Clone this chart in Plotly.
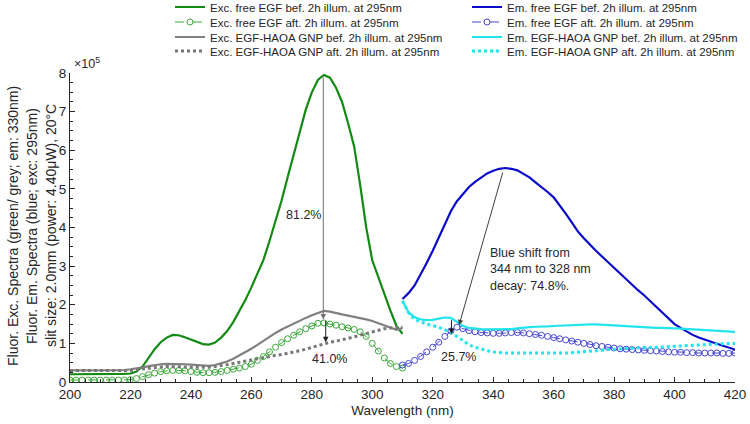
import plotly.graph_objects as go

# ---------------- data (intensity in units of 1e5) ----------------
wl_exc = list(range(200, 311, 2))
wl_em = list(range(310, 421, 2))

exc_free_bef = [0.20, 0.20, 0.20, 0.20, 0.20, 0.20, 0.20, 0.20, 0.20, 0.21,
                0.22, 0.27, 0.40, 0.62, 0.85, 1.03, 1.15, 1.22, 1.21, 1.16,
                1.10, 1.03, 0.98, 0.97, 1.02, 1.15, 1.32, 1.55, 1.82, 2.12,
                2.45, 2.80, 3.16, 3.65, 4.15, 4.70, 5.30, 5.90, 6.50, 7.05,
                7.50, 7.82, 7.95, 7.88, 7.62, 7.25, 6.70, 6.10, 5.10, 4.00,
                3.15, 2.70, 2.30, 1.85, 1.45, 1.25]
exc_free_aft = [0.05, 0.05, 0.05, 0.05, 0.05, 0.05, 0.05, 0.05, 0.05, 0.05,
                0.06, 0.09, 0.14, 0.19, 0.23, 0.27, 0.29, 0.30, 0.30, 0.29,
                0.27, 0.25, 0.24, 0.24, 0.25, 0.27, 0.30, 0.33, 0.36, 0.40,
                0.46, 0.56, 0.66, 0.78, 0.90, 1.02, 1.12, 1.21, 1.30, 1.38,
                1.45, 1.52, 1.53, 1.50, 1.47, 1.43, 1.40, 1.36, 1.30, 1.18,
                1.00, 0.80, 0.62, 0.48, 0.40, 0.36]
exc_gnp_bef = [0.30, 0.30, 0.30, 0.30, 0.30, 0.30, 0.30, 0.30, 0.31, 0.31,
               0.33, 0.35, 0.38, 0.41, 0.44, 0.46, 0.47, 0.47, 0.47, 0.46,
               0.45, 0.44, 0.43, 0.42, 0.44, 0.48, 0.53, 0.60, 0.68, 0.77,
               0.86, 0.96, 1.07, 1.17, 1.27, 1.36, 1.44, 1.52, 1.59, 1.66,
               1.73, 1.79, 1.84, 1.82, 1.78, 1.75, 1.72, 1.69, 1.66, 1.62,
               1.58, 1.52, 1.46, 1.40, 1.35, 1.40]
exc_gnp_aft = [0.30, 0.30, 0.30, 0.30, 0.30, 0.30, 0.30, 0.30, 0.30, 0.30,
               0.30, 0.32, 0.34, 0.36, 0.38, 0.39, 0.40, 0.40, 0.40, 0.39,
               0.38, 0.38, 0.38, 0.38, 0.40, 0.42, 0.45, 0.48, 0.51, 0.55,
               0.58, 0.61, 0.64, 0.66, 0.69, 0.71, 0.74, 0.77, 0.81, 0.85,
               0.90, 0.95, 1.00, 1.03, 1.06, 1.09, 1.13, 1.17, 1.21, 1.26,
               1.31, 1.35, 1.38, 1.40, 1.41, 1.42]

em_free_bef = [2.15, 2.30, 2.50, 2.78, 3.08, 3.40, 3.75, 4.10, 4.42, 4.68,
               4.88, 5.05, 5.18, 5.30, 5.40, 5.47, 5.52, 5.54, 5.52, 5.48,
               5.40, 5.30, 5.17, 5.05, 4.92, 4.78, 4.58, 4.36, 4.13, 3.90,
               3.72, 3.55, 3.40, 3.25, 3.10, 2.96, 2.81, 2.66, 2.51, 2.37,
               2.24, 2.09, 1.93, 1.78, 1.63, 1.50, 1.40, 1.30, 1.22, 1.15,
               1.09, 1.04, 0.99, 0.94, 0.90, 0.84]
em_free_aft = [0.44, 0.48, 0.56, 0.66, 0.78, 0.90, 1.03, 1.18, 1.32, 1.42,
               1.38, 1.33, 1.30, 1.28, 1.27, 1.26, 1.26, 1.27, 1.28, 1.28,
               1.27, 1.25, 1.23, 1.21, 1.18, 1.15, 1.12, 1.09, 1.06, 1.03,
               1.00, 0.97, 0.94, 0.92, 0.90, 0.88, 0.86, 0.85, 0.84, 0.83,
               0.82, 0.81, 0.80, 0.79, 0.78, 0.77, 0.77, 0.76, 0.76, 0.75,
               0.75, 0.75, 0.75, 0.74, 0.74, 0.75]
em_gnp_bef = [2.10, 1.80, 1.68, 1.62, 1.60, 1.61, 1.64, 1.67, 1.66, 1.55,
              1.45, 1.40, 1.38, 1.37, 1.36, 1.36, 1.36, 1.36, 1.37, 1.39,
              1.41, 1.42, 1.43, 1.43, 1.44, 1.45, 1.46, 1.47, 1.48, 1.48,
              1.49, 1.49, 1.49, 1.48, 1.48, 1.47, 1.46, 1.45, 1.44, 1.43,
              1.42, 1.41, 1.40, 1.40, 1.40, 1.39, 1.38, 1.37, 1.36, 1.35,
              1.34, 1.33, 1.32, 1.31, 1.31, 1.30]
em_gnp_aft = [2.10, 1.80, 1.62, 1.55, 1.50, 1.46, 1.42, 1.35, 1.28, 1.18,
              1.06, 0.96, 0.90, 0.85, 0.81, 0.78, 0.76, 0.75, 0.75, 0.75,
              0.75, 0.74, 0.74, 0.74, 0.74, 0.74, 0.75, 0.75, 0.76, 0.77,
              0.78, 0.79, 0.81, 0.82, 0.84, 0.85, 0.86, 0.87, 0.88, 0.88,
              0.89, 0.89, 0.90, 0.90, 0.91, 0.91, 0.92, 0.93, 0.94, 0.95,
              0.96, 0.97, 0.98, 0.99, 1.00, 1.00]

series_names = [
    "Exc. free EGF bef. 2h illum. at 295nm",
    "Exc. free EGF aft. 2h illum. at 295nm",
    "Exc. EGF-HAOA GNP bef. 2h illum. at 295nm",
    "Exc. EGF-HAOA GNP aft. 2h illum. at 295nm",
    "Em. free EGF bef. 2h illum. at 295nm",
    "Em. free EGF aft. 2h illum. at 295nm",
    "Em. EGF-HAOA GNP bef. 2h illum. at 295nm",
    "Em. EGF-HAOA GNP aft. 2h illum. at 295nm",
]

# annotation content
pct_labels = ["81.2%", "41.0%", "25.7%"]
pct_x = [277.3, 286.0, 328.5]
pct_y = [4.33, 0.60, 0.66]
shift_text = "Blue shift from<br>344 nm to 328 nm<br>decay: 74.8%."
# arrows: (tail x, tail y, head x, head y, colour)
arrows = [
    (283.8, 7.92, 283.8, 1.62, "#707070"),
    (284.6, 1.62, 284.6, 1.03, "#202020"),
    (343.3, 5.46, 328.7, 1.47, "#404040"),
    (326.2, 1.64, 326.2, 1.24, "#202020"),
]

FONT = "Liberation Sans, Arial, sans-serif"
TXT = "#262626"

styles = [
    dict(x=wl_exc, y=exc_free_bef, color="#138a13", dash="solid", width=2.2, mk=False),
    dict(x=wl_exc, y=exc_free_aft, color="#3aa83a", dash="dash", width=1, mk=True),
    dict(x=wl_exc, y=exc_gnp_bef, color="#808080", dash="solid", width=2.2, mk=False),
    dict(x=wl_exc, y=exc_gnp_aft, color="#777777", dash="dot", width=3, mk=False),
    dict(x=wl_em, y=em_free_bef, color="#0a0ac8", dash="solid", width=2.2, mk=False),
    dict(x=wl_em, y=em_free_aft, color="#4646d2", dash="dash", width=1, mk=True),
    dict(x=wl_em, y=em_gnp_bef, color="#22e4ec", dash="solid", width=2.2, mk=False),
    dict(x=wl_em, y=em_gnp_aft, color="#22e4ec", dash="dot", width=3, mk=False),
]

fig = go.Figure()
for i, (nm, s) in enumerate(zip(series_names, styles)):
    kw = dict(
        x=s["x"], y=s["y"], name=nm,
        mode="lines+markers" if s["mk"] else "lines",
        line=dict(color=s["color"], dash=s["dash"], width=s["width"]),
        legend="legend" if i == 0 else f"legend{i + 1}",
        showlegend=True,
    )
    if s["mk"]:
        kw["marker"] = dict(symbol="circle-open", size=6, color=s["color"],
                            line=dict(width=1, color=s["color"]))
    fig.add_trace(go.Scatter(**kw))

# legends: two columns of four rows
row_px = [7, 22, 37, 51]
col_px = [170, 467]
H = 424
W = 750
legend_layout = {}
for i in range(8):
    col = 0 if i < 4 else 1
    row = i % 4
    key = "legend" if i == 0 else f"legend{i + 1}"
    legend_layout[key] = dict(
        x=col_px[col] / W, y=1 - row_px[row] / H,
        xref="container", yref="container",
        xanchor="left", yanchor="middle",
        bgcolor="rgba(0,0,0,0)", borderwidth=0,
        font=dict(family=FONT, size=11.5, color=TXT),
        itemwidth=30,
    )

annotations = []
for t, x, y in zip(pct_labels, pct_x, pct_y):
    annotations.append(dict(x=x, y=y, xref="x", yref="y", text=t, showarrow=False,
                            font=dict(family=FONT, size=12.5, color=TXT)))
annotations.append(dict(x=338.3, y=2.9, xref="x", yref="y", text=shift_text,
                        showarrow=False, align="left", xanchor="left",
                        font=dict(family=FONT, size=12.5, color=TXT)))
for (ax_, ay_, hx, hy, c) in arrows:
    annotations.append(dict(x=hx, y=hy, ax=ax_, ay=ay_, xref="x", yref="y",
                            axref="x", ayref="y", text="", showarrow=True,
                            arrowhead=2, arrowsize=1.1, arrowwidth=1,
                            arrowcolor=c, standoff=0, startstandoff=0))
# exponent label
annotations.append(dict(x=0.003, y=1.0, xref="paper", yref="paper",
                        text="×10<sup>5</sup>", showarrow=False,
                        xanchor="left", yanchor="bottom",
                        font=dict(family=FONT, size=12.5, color=TXT)))
# y-axis title (three lines)
ytitle = ["Fluor. Exc. Spectra (green/ grey; em: 330nm)",
          "Fluor. Em. Spectra (blue; exc: 295nm)",
          "slit size: 2.0mm (power: 4.40μW), 20°C"]
ytitle_px = [13, 32, 51]
for t, px in zip(ytitle, ytitle_px):
    annotations.append(dict(x=(px - 70) / 665, y=0.505, xref="paper", yref="paper",
                            text=t, showarrow=False, textangle=-90,
                            xanchor="center", yanchor="middle",
                            font=dict(family=FONT, size=14, color=TXT)))

fig.update_layout(
    width=W, height=H,
    showlegend=True,
    margin=dict(l=70, r=15, t=73, b=42, autoexpand=False),
    paper_bgcolor="white", plot_bgcolor="white",
    font=dict(family=FONT, size=13, color=TXT),
    annotations=annotations,
    **legend_layout,
)
fig.update_xaxes(
    range=[200, 420], dtick=20, tick0=200,
    showline=True, linecolor=TXT, linewidth=1,
    ticks="inside", ticklen=5, tickcolor=TXT,
    minor=dict(dtick=5, ticks="inside", ticklen=3, tickcolor=TXT),
    showgrid=False, zeroline=False,
    tickfont=dict(family=FONT, size=13.5, color=TXT),
    title=dict(text="Wavelength (nm)", standoff=4,
               font=dict(family=FONT, size=13.5, color=TXT)),
)
fig.update_yaxes(
    range=[0, 8], dtick=1, tick0=0,
    showline=True, linecolor=TXT, linewidth=1,
    ticks="inside", ticklen=5, tickcolor=TXT,
    minor=dict(dtick=0.25, ticks="inside", ticklen=3, tickcolor=TXT),
    showgrid=False, zeroline=False,
    tickfont=dict(family=FONT, size=13.5, color=TXT),
)

fig.write_html("out.html", config={"displayModeBar": False},
               post_script="document.body.style.margin='0px';document.body.style.overflow='hidden';")
